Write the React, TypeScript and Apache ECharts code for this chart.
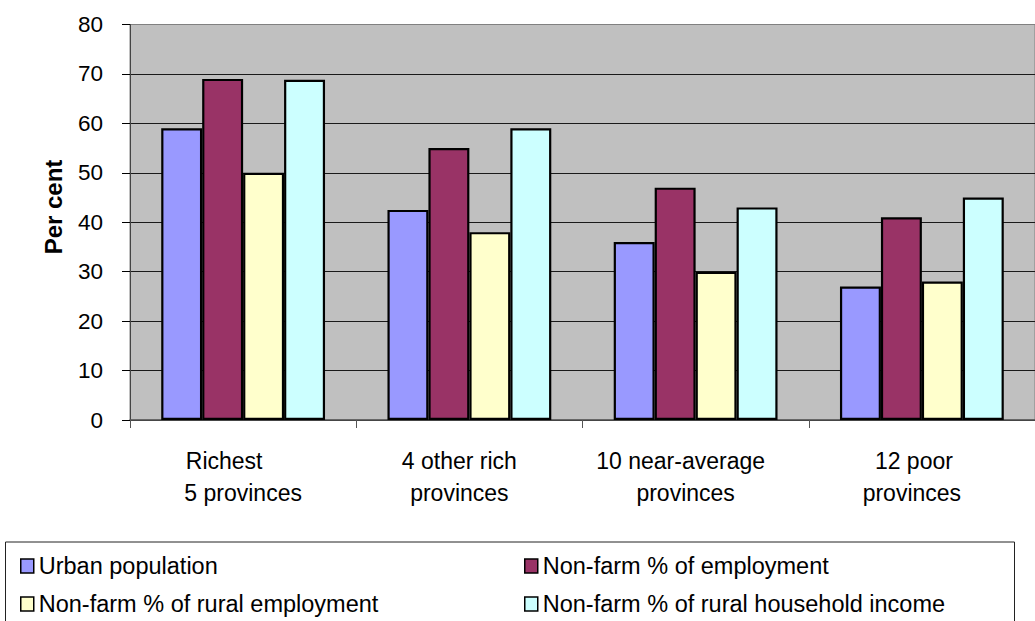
import React, { useEffect, useRef } from "react";
import * as echarts from "echarts";

const categories = ["Richest|5 provinces", "4 other rich|provinces", "10 near-average|provinces", "12 poor|provinces"];
const seriesNames = [
  "Urban population",
  "Non-farm % of employment",
  "Non-farm % of rural employment",
  "Non-farm % of rural household income",
];
const urbanPopulation = [59, 42.5, 36, 27];
const nonFarmEmployment = [69, 55, 47, 41];
const nonFarmRuralEmployment = [50, 38, 30, 28];
const nonFarmRuralIncome = [68.8, 59, 43, 45];
const seriesValues = [urbanPopulation, nonFarmEmployment, nonFarmRuralEmployment, nonFarmRuralIncome];
const seriesColors = ["#9999FF", "#993366", "#FFFFCC", "#CCFFFF"];
// horizontal label offsets (px, negative = left) per category, line 1 and line 2
const line1Shift = [-19, -10, -15, -8];
const line2Shift = [0, -10, -10, -10];

const FONT = "'Liberation Sans', Arial, sans-serif";

export default function App() {
  const ref = useRef<HTMLDivElement>(null);
  useEffect(() => {
    if (!ref.current) return;
    const chart = echarts.init(ref.current, undefined, { renderer: "svg" });
    const rich: Record<string, any> = {};
    categories.forEach((_, i) => {
      const s1 = line1Shift[i];
      const s2 = line2Shift[i];
      rich["a" + i] = {
        fontSize: 23, lineHeight: 32, color: "#000", fontFamily: FONT, align: "center",
        padding: [0, s1 < 0 ? -2 * s1 : 0, 0, s1 > 0 ? 2 * s1 : 0],
      };
      rich["b" + i] = {
        fontSize: 23, lineHeight: 32, color: "#000", fontFamily: FONT, align: "center",
        padding: [0, s2 < 0 ? -2 * s2 : 0, 0, s2 > 0 ? 2 * s2 : 0],
      };
    });
    const legendCommon = {
      orient: "vertical",
      top: 554,
      padding: 0,
      itemGap: 14,
      itemWidth: 13,
      itemHeight: 14,
      icon: "rect",
      itemStyle: { borderColor: "#000", borderWidth: 1.5 },
      textStyle: { fontSize: 23.5, color: "#000", fontFamily: FONT, lineHeight: 24 },
    };
    const option: any = {
      animation: false,
      backgroundColor: "#ffffff",
      textStyle: { fontFamily: FONT },
      grid: {
        left: 130,
        top: 24.5,
        width: 913,
        height: 395.5,
        show: true,
        backgroundColor: "#C0C0C0",
        borderColor: "#808080",
        borderWidth: 1,
      },
      xAxis: {
        type: "category",
        data: categories,
        axisLine: { show: true, lineStyle: { color: "#555", width: 1.5 } },
        axisTick: { show: true, length: 8, lineStyle: { color: "#555" } },
        axisLabel: {
          interval: 0,
          margin: 25,
          formatter: (v: string, idx: number) => {
            const [l1, l2] = v.split("|");
            return `{a${idx}|${l1}}\n{b${idx}|${l2}}`;
          },
          rich,
        },
      },
      yAxis: {
        type: "value",
        min: 0,
        max: 80,
        interval: 10,
        axisLine: { show: true, lineStyle: { color: "#444", width: 1 } },
        axisTick: { show: true, length: 8, lineStyle: { color: "#000" } },
        axisLabel: { fontSize: 22.5, color: "#000", margin: 27, fontFamily: FONT },
        splitLine: { show: true, showMaxLine: false, lineStyle: { color: "#1a1a1a", width: 1 } },
      },
      legend: [
        { ...legendCommon, data: [seriesNames[0], seriesNames[2]], left: 20 },
        { ...legendCommon, data: [seriesNames[1], seriesNames[3]], left: 524 },
      ],
      graphic: [
        {
          type: "rect",
          z: -1,
          shape: { x: 5.5, y: 542, width: 1009, height: 90 },
          style: { fill: "#fff", stroke: "#222", lineWidth: 1 },
          silent: true,
        },
        {
          type: "text",
          x: 53,
          y: 207,
          rotation: Math.PI / 2,
          style: {
            text: "Per cent",
            fontSize: 24,
            fontWeight: "bold",
            fill: "#000",
            fontFamily: FONT,
            align: "center",
            verticalAlign: "middle",
          },
        },
      ],
      series: seriesNames.map((name, i) => ({
        name,
        type: "bar",
        data: seriesValues[i],
        barGap: "0%",
        barCategoryGap: "27.6%",
        itemStyle: { color: seriesColors[i], borderColor: "#000", borderWidth: 2.2 },
      })),
    };
    chart.setOption(option);
    return () => chart.dispose();
  }, []);
  return (
    <div
      ref={ref}
      style={{ position: "fixed", left: 0, top: 0, width: 1035, height: 621, background: "#fff" }}
    />
  );
}
